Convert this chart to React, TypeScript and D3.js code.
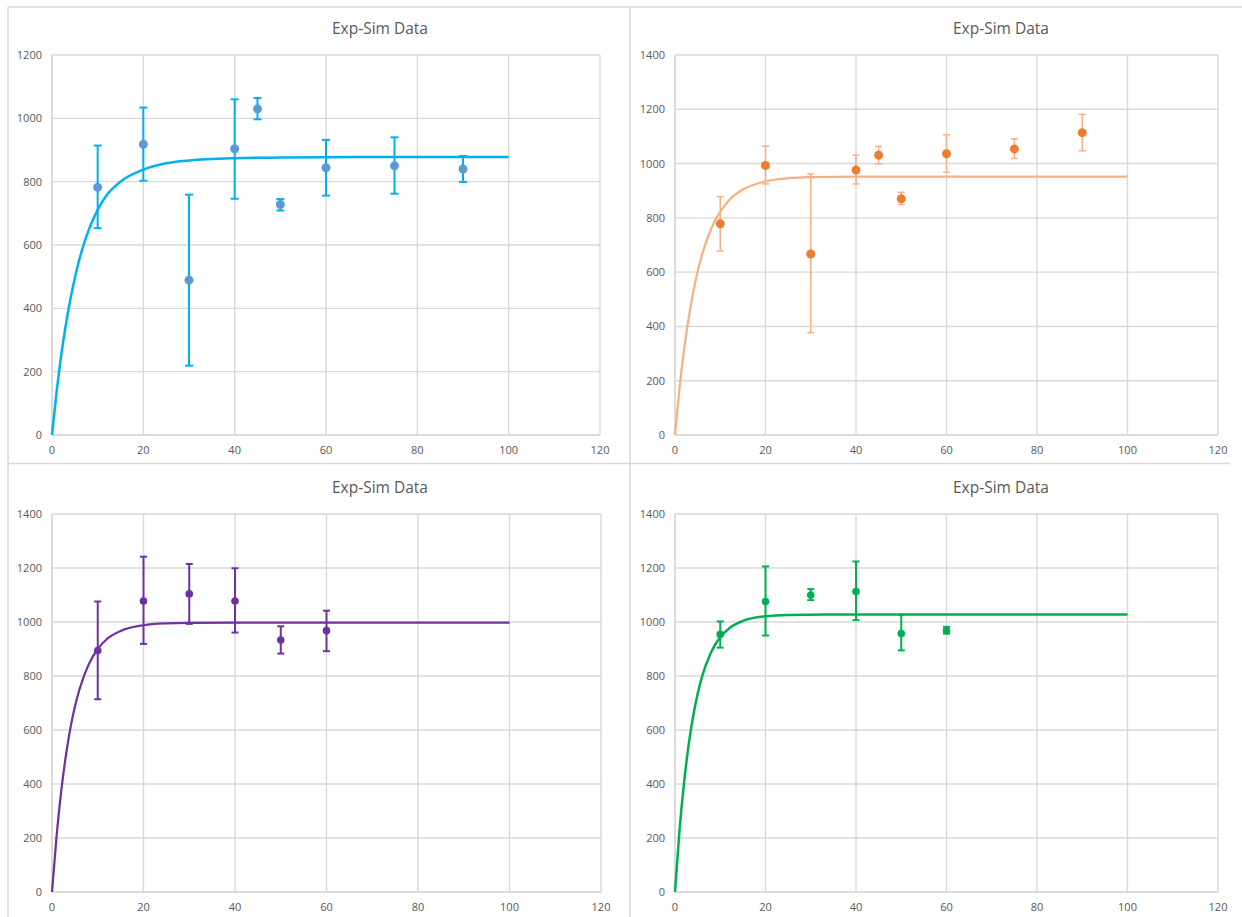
import React from "react";
import * as d3 from "d3";

// ---------- Data ----------
const expX1 = [10, 20, 30, 40, 45, 50, 60, 75, 90];
const expY1 = [782, 918, 489, 904, 1030, 728, 844, 850, 840];
const errLo1 = [653, 803, 219, 746, 997, 709, 756, 762, 799];
const errHi1 = [914, 1034, 759, 1060, 1064, 745, 932, 940, 881];

const expX2 = [10, 20, 30, 40, 45, 50, 60, 75, 90];
const expY2 = [778, 993, 667, 976, 1031, 870, 1036, 1054, 1114];
const errLo2 = [678, 925, 377, 925, 999, 849, 968, 1019, 1047];
const errHi2 = [878, 1064, 962, 1031, 1063, 894, 1106, 1091, 1181];

const expX3 = [10, 20, 30, 40, 50, 60];
const expY3 = [894, 1078, 1104, 1078, 933, 968];
const errLo3 = [714, 919, 993, 961, 883, 892];
const errHi3 = [1076, 1242, 1215, 1199, 984, 1042];

const expX4 = [10, 20, 30, 40, 50, 60];
const expY4 = [954, 1076, 1100, 1113, 957, 968];
const errLo4 = [905, 950, 1081, 1007, 895, 957];
const errHi4 = [1002, 1206, 1122, 1224, 1027, 982];

// simulated curves
const simX = [0, 1, 2, 3, 4, 5, 6, 8, 10, 12, 15, 20, 25, 30, 40, 50, 60, 80, 100];
const simY1 = [0, 135, 250, 345, 426, 496, 555, 646, 711, 758, 800, 838, 858, 867, 874, 876, 877, 878, 878];
const simY2 = [0, 173, 314, 429, 524, 602, 666, 760, 823, 866, 904, 935, 946, 950, 952, 952, 952, 952, 952];
const simY3 = [0, 207, 371, 501, 605, 686, 750, 842, 900, 937, 967, 988, 995, 997, 998, 998, 998, 998, 998];
const simY4 = [0, 228, 405, 543, 650, 733, 799, 889, 944, 977, 1004, 1021, 1026, 1027, 1028, 1028, 1028, 1028, 1028];

const xTicks = [0, 20, 40, 60, 80, 100, 120];
const yTicks1 = [0, 200, 400, 600, 800, 1000, 1200];
const yTicks234 = [0, 200, 400, 600, 800, 1000, 1200, 1400];
const chartTitle = "Exp-Sim Data";

// ---------- Layout / style ----------
type PanelSpec = {
  left: number; right: number; top: number; bottom: number; titleX: number; titleY: number;
  yMax: number; yTicks: number[];
  ex: number[]; ey: number[]; lo: number[]; hi: number[]; sy: number[];
  marker: string; bar: string; curve: string; r: number; barW: number; curveW: number; capW: number;
};

const panels: PanelSpec[] = [
  { left: 52, right: 600, top: 55, bottom: 435, titleX: 380, titleY: 34, yMax: 1200, yTicks: yTicks1,
    ex: expX1, ey: expY1, lo: errLo1, hi: errHi1, sy: simY1,
    marker: "#5B9BD5", bar: "#00B0F0", curve: "#00B0F0", r: 4.5, barW: 2, curveW: 2.5, capW: 4 },
  { left: 675, right: 1218, top: 55, bottom: 435, titleX: 1001, titleY: 34, yMax: 1400, yTicks: yTicks234,
    ex: expX2, ey: expY2, lo: errLo2, hi: errHi2, sy: simY2,
    marker: "#ED7D31", bar: "#F4B183", curve: "#F4B183", r: 4.5, barW: 1.5, curveW: 2.25, capW: 3.5 },
  { left: 52, right: 601, top: 514, bottom: 892, titleX: 380, titleY: 493, yMax: 1400, yTicks: yTicks234,
    ex: expX3, ey: expY3, lo: errLo3, hi: errHi3, sy: simY3,
    marker: "#7030A0", bar: "#7030A0", curve: "#7030A0", r: 3.8, barW: 2, curveW: 2.25, capW: 3.5 },
  { left: 675, right: 1218, top: 514, bottom: 892, titleX: 1001, titleY: 493, yMax: 1400, yTicks: yTicks234,
    ex: expX4, ey: expY4, lo: errLo4, hi: errHi4, sy: simY4,
    marker: "#00B050", bar: "#00B050", curve: "#00B050", r: 3.8, barW: 2, curveW: 2.5, capW: 3.5 },
];

const GRID = "#D9D9D9";
const TEXT = "#595959";
const FONT = "'Open Sans', 'Liberation Sans', sans-serif";

function Panel({ p }: { p: PanelSpec }) {
  const x = d3.scaleLinear().domain([0, 120]).range([p.left, p.right]);
  const y = d3.scaleLinear().domain([0, p.yMax]).range([p.bottom, p.top]);
  const line = d3
    .line<number>()
    .x((_, i) => x(simX[i]))
    .y((v) => y(v))
    .curve(d3.curveMonotoneX);
  return (
    <g>
      <text x={p.titleX} y={p.titleY} textAnchor="middle" fontSize={15.5} fill={TEXT} fontFamily={FONT}>
        {chartTitle}
      </text>
      {/* gridlines */}
      {p.yTicks.map((t) => (
        <line key={"gy" + t} x1={p.left} x2={p.right} y1={y(t)} y2={y(t)} stroke={GRID} strokeWidth={1.4} />
      ))}
      {xTicks.map((t) => (
        <line key={"gx" + t} x1={x(t)} x2={x(t)} y1={p.top} y2={p.bottom} stroke={GRID} strokeWidth={1.4} />
      ))}
      {/* axis lines */}
      <line x1={p.left} x2={p.right} y1={p.bottom} y2={p.bottom} stroke={GRID} strokeWidth={1.6} />
      <line x1={p.left} x2={p.left} y1={p.top} y2={p.bottom} stroke={GRID} strokeWidth={1.6} />
      {/* tick labels */}
      {p.yTicks.map((t) => (
        <text key={"ly" + t} x={p.left - 10} y={y(t) + 4} textAnchor="end" fontSize={11} fill={TEXT} fontFamily={FONT}>
          {t}
        </text>
      ))}
      {xTicks.map((t) => (
        <text key={"lx" + t} x={x(t)} y={p.bottom + 19} textAnchor="middle" fontSize={11} fill={TEXT} fontFamily={FONT}>
          {t}
        </text>
      ))}
      {/* sim curve */}
      <path d={line(p.sy) || ""} fill="none" stroke={p.curve} strokeWidth={p.curveW} />
      {/* error bars */}
      {p.ex.map((xv, i) => (
        <g key={"e" + i} stroke={p.bar} strokeWidth={p.barW}>
          <line x1={x(xv)} x2={x(xv)} y1={y(p.lo[i])} y2={y(p.hi[i])} />
          <line x1={x(xv) - p.capW} x2={x(xv) + p.capW} y1={y(p.lo[i])} y2={y(p.lo[i])} />
          <line x1={x(xv) - p.capW} x2={x(xv) + p.capW} y1={y(p.hi[i])} y2={y(p.hi[i])} />
        </g>
      ))}
      {/* markers */}
      {p.ex.map((xv, i) => (
        <circle key={"m" + i} cx={x(xv)} cy={y(p.ey[i])} r={p.r} fill={p.marker} />
      ))}
    </g>
  );
}

export default function App() {
  return (
    <svg
      width={1242}
      height={917}
      style={{ position: "absolute", left: 0, top: 0, background: "#fff" }}
    >
      <rect x={0} y={0} width={1242} height={917} fill="#fff" />
      {/* panel frames */}
      <line x1={8} x2={1242} y1={7} y2={7} stroke={GRID} strokeWidth={1.5} />
      <line x1={8} x2={8} y1={7} y2={917} stroke={GRID} strokeWidth={1.5} />
      <line x1={630} x2={630} y1={7} y2={917} stroke={GRID} strokeWidth={1.5} />
      <line x1={8} x2={1230} y1={463.5} y2={463.5} stroke={GRID} strokeWidth={1.5} />
      {panels.map((p, i) => (
        <Panel key={i} p={p} />
      ))}
    </svg>
  );
}
